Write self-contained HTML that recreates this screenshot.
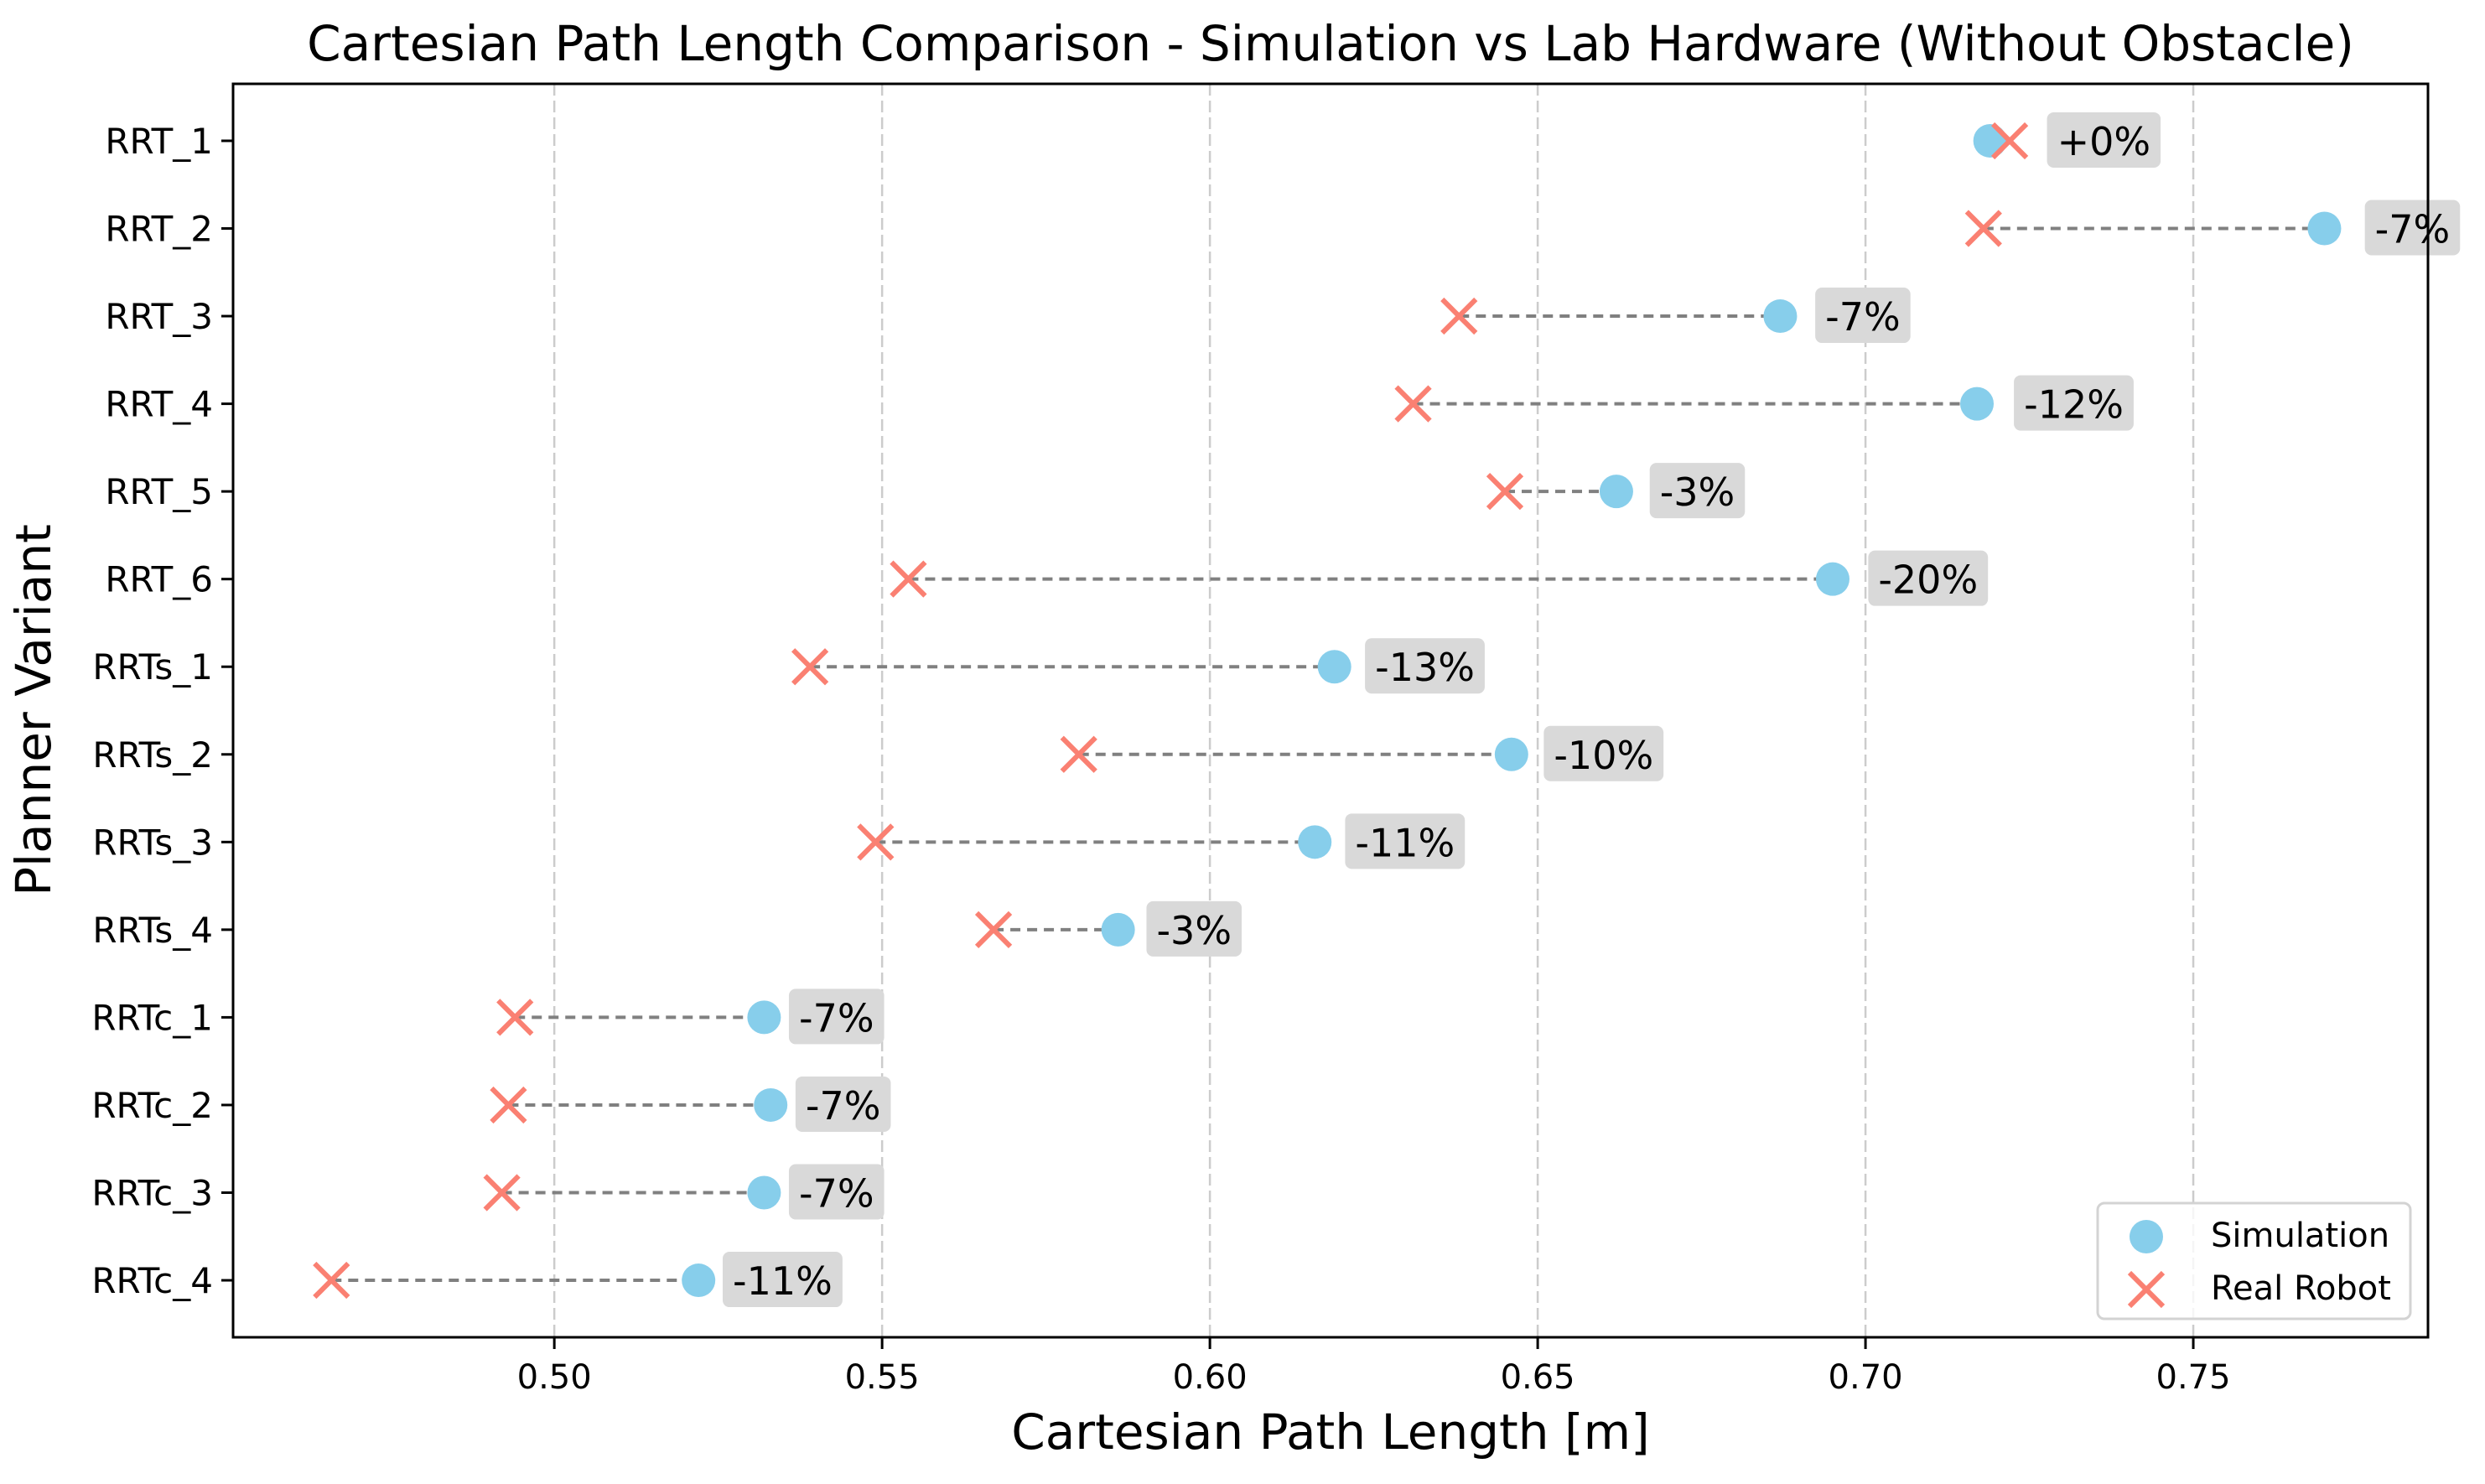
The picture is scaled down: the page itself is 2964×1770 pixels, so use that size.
<!DOCTYPE html>
<html><head><meta charset="utf-8"><style>
html,body{margin:0;padding:0;background:#fff;}
svg{display:block;font-family:"DejaVu Sans","Liberation Sans",sans-serif;}
</style></head><body>
<svg id="chart" width="2964" height="1770" viewBox="0 0 2964 1770" xmlns="http://www.w3.org/2000/svg">
<rect width="2964" height="1770" fill="#fff"/>
<text x="1587" y="72" text-anchor="middle" font-size="58">Cartesian Path Length Comparison - Simulation vs Lab Hardware (Without Obstacle)</text>
<text x="1587" y="1728" text-anchor="middle" font-size="58">Cartesian Path Length [m]</text>
<text transform="translate(60,847) rotate(-90)" text-anchor="middle" font-size="58">Planner Variant</text>
<g id="grid"></g>
<g id="marks"></g>
<rect x="278" y="100" width="2618" height="1495" fill="none" stroke="#000" stroke-width="3"/>
<g id="axes"></g>
<g>
<rect x="2502" y="1435" width="373" height="138" rx="8" fill="#fff" fill-opacity="0.8" stroke="#d3d3d3" stroke-width="3"/>
<circle cx="2560" cy="1475" r="20" fill="#87CEEB"/>
<text x="2637" y="1487" font-size="40">Simulation</text>
<g stroke="#FA8072" stroke-width="6"><line x1="2540" y1="1518" x2="2580" y2="1558"/><line x1="2540" y1="1558" x2="2580" y2="1518"/></g>
<text x="2637" y="1550" font-size="40">Real Robot</text>
</g>
</svg>
<script>
const categories = ["RRT_1","RRT_2","RRT_3","RRT_4","RRT_5","RRT_6","RRTs_1","RRTs_2","RRTs_3","RRTs_4","RRTc_1","RRTc_2","RRTc_3","RRTc_4"];
const simValues = [0.719,0.770,0.687,0.717,0.662,0.695,0.619,0.646,0.616,0.586,0.532,0.533,0.532,0.522];
const realValues = [0.722,0.718,0.638,0.631,0.645,0.554,0.539,0.580,0.549,0.567,0.494,0.493,0.492,0.466];
const pctLabels = ["+0%","-7%","-7%","-12%","-3%","-20%","-13%","-10%","-11%","-3%","-7%","-7%","-7%","-11%"];
const xTicks = [0.50,0.55,0.60,0.65,0.70,0.75];
const xTickLabels = ["0.50","0.55","0.60","0.65","0.70","0.75"];

const NS = "http://www.w3.org/2000/svg";
const L=278,R=2896,T=100,B=1595;
const xMin=0.451,xMax=0.7858;
function xs(v){return L+(v-xMin)/(xMax-xMin)*(R-L);}
const yMin=-0.65,yMax=categories.length-1+0.65;
function ys(i){return T+(i-yMin)/(yMax-yMin)*(B-T);}
function mk(tag,attrs,parent){const e=document.createElementNS(NS,tag);for(const k in attrs)e.setAttribute(k,attrs[k]);parent.appendChild(e);return e;}

const grid=document.getElementById('grid'),marks=document.getElementById('marks'),axes=document.getElementById('axes');
xTicks.forEach((t,i)=>{
  const x=xs(t);
  const g=mk('line',{x1:x,x2:x,y1:T,y2:B,stroke:'#cccccc','stroke-width':2.5,'stroke-dasharray':'14,6'},grid);
  
  
  const tk=mk('line',{x1:x,x2:x,y1:B,y2:B+14,stroke:'#000','stroke-width':3},axes);
  
  
  const tl=mk('text',{x:x,y:1656,'text-anchor':'middle','font-size':40},axes);
  
  
  tl.textContent=xTickLabels[i];
});
categories.forEach((c,i)=>{
  const y=ys(i);
  const tk=mk('line',{x1:L-14,x2:L,y1:y,y2:y,stroke:'#000','stroke-width':3},axes);
  
  
  const tl=mk('text',{x:L-24,y:y+15,'text-anchor':'end','font-size':42},axes);
  
  
  tl.textContent=c;
  const xs1=xs(simValues[i]),xr=xs(realValues[i]);
  const ln=mk('line',{x1:xr,x2:xs1,y1:y,y2:y,stroke:'#808080','stroke-width':4,'stroke-dasharray':'12,8'},marks);
  
  
  const ci=mk('circle',{cx:xs1,cy:y,r:20,fill:'#87CEEB'},marks);
  
  
  const gx=mk('g',{stroke:'#FA8072','stroke-width':6},marks);
  
  
  mk('line',{x1:xr-20,y1:y-20,x2:xr+20,y2:y+20},gx);
  mk('line',{x1:xr-20,y1:y+20,x2:xr+20,y2:y-20},gx);
  const tx=xs(Math.max(simValues[i],realValues[i])*1.01);
  const bx=mk('rect',{x:tx-12,y:y-34,width:0,height:66,rx:8,fill:'#d9d9d9'},marks);
  
  
  const lt=mk('text',{x:tx,y:y+17,'font-size':46},marks);
  
  
  lt.textContent=pctLabels[i];
  bx.setAttribute('width',lt.getComputedTextLength()+24);
});
</script>
</body></html>
